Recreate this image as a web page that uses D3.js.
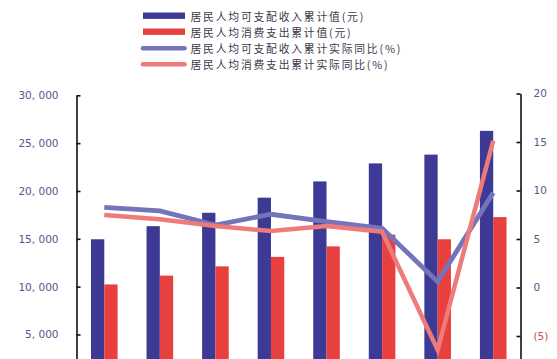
<!DOCTYPE html>
<html><head><meta charset="utf-8">
<script src="https://cdn.jsdelivr.net/npm/d3@7"></script>
<style>
html,body{margin:0;padding:0;background:#fff;overflow:hidden}
svg{display:block}
</style></head>
<body>
<svg id="c" width="557" height="359"></svg>
<script>
const categories = ["2014年1-9月","2015年1-9月","2016年1-9月","2017年1-9月","2018年1-9月","2019年1-9月","2020年1-9月","2021年1-9月"];
const incomeValues = [14950, 16320, 17720, 19300, 21000, 22880, 23800, 26280];
const consumeValues = [10230, 11150, 12120, 13110, 14210, 15440, 14950, 17270];
const incomeGrowth = [8.27, 7.9, 6.44, 7.55, 6.78, 6.1, 0.6, 9.77];
const consumeGrowth = [7.47, 7.03, 6.34, 5.82, 6.34, 5.75, -6.44, 15.13];
const leftTicks = [5000, 10000, 15000, 20000, 25000, 30000];
const rightTicks = [-5, 0, 5, 10, 15, 20];
const seriesNames = ["居民人均可支配收入累计值(元)","居民人均消费支出累计值(元)","居民人均可支配收入累计实际同比(%)","居民人均消费支出累计实际同比(%)"];

const C = {inc:"#3d3a96", con:"#e8403f", incL:"#7474bb", conL:"#ee7a7a"};
const svg = d3.select("#c");

const x = d3.scaleBand().domain(categories).range([76.5, 521]).padding(0);
const yL = d3.scaleLinear().domain([0, 30000]).range([382.3, 95.3]);
const yR = d3.scaleLinear().domain([-10, 20]).range([384.5, 93.5]);
const bw = 13.3;

// bars
const g = svg.append("g");
g.selectAll("rect.inc").data(categories).join("rect")
  .attr("x", d => x(d) + x.bandwidth()/2 - bw)
  .attr("y", (d,i) => yL(incomeValues[i]))
  .attr("width", bw)
  .attr("height", (d,i) => yL(0) - yL(incomeValues[i]))
  .attr("fill", C.inc);
g.selectAll("rect.con").data(categories).join("rect")
  .attr("x", d => x(d) + x.bandwidth()/2)
  .attr("y", (d,i) => yL(consumeValues[i]))
  .attr("width", bw)
  .attr("height", (d,i) => yL(0) - yL(consumeValues[i]))
  .attr("fill", C.con);

// lines
const cx = d => x(d) + x.bandwidth()/2;
const line = arr => d3.line().x((d,i) => cx(categories[i])).y(d => yR(d))(arr);
svg.append("path").attr("d", line(incomeGrowth)).attr("fill","none")
  .attr("stroke", C.incL).attr("stroke-width", 4.8);
svg.append("path").attr("d", line(consumeGrowth)).attr("fill","none")
  .attr("stroke", C.conL).attr("stroke-width", 4.5);

// axes
const fmtL = d => d3.format(",")(d).replace(",", ", ");
const axL = svg.append("g").attr("transform","translate(76.5,0)")
  .call(d3.axisLeft(yL).tickValues(leftTicks).tickFormat(fmtL).tickSize(-4).tickSizeOuter(0).tickPadding(18));
const axR = svg.append("g").attr("transform","translate(520.5,0)")
  .call(d3.axisRight(yR).tickValues(rightTicks).tickFormat(d => d < 0 ? "(" + (-d) + ")" : d).tickSize(-4).tickSizeOuter(0).tickPadding(13));
[axL, axR].forEach(a => {
  a.select(".domain").attr("stroke","#111").attr("stroke-width",1.6);
  a.selectAll(".tick line").attr("stroke","#111").attr("stroke-width",1.6);
  a.selectAll(".tick text").attr("font-family","DejaVu Sans, sans-serif").attr("font-size",10.5)
    .attr("fill","#525a88");
});
axR.selectAll(".tick text").attr("fill", d => d < 0 ? "#c0504d" : "#525a88");

// legend
const lg = svg.append("g");
const rowY = [15.7, 31.7, 48.3, 64.3];
seriesNames.forEach((name, i) => {
  if (i < 2) {
    lg.append("rect").attr("x",143).attr("y",rowY[i]-3.2).attr("width",42).attr("height",6.4)
      .attr("fill", i === 0 ? C.inc : C.con);
  } else {
    lg.append("line").attr("x1",143).attr("x2",184.5).attr("y1",rowY[i]).attr("y2",rowY[i])
      .attr("stroke", i === 2 ? C.incL : C.conL).attr("stroke-width",4.6).attr("stroke-linecap","round");
  }
  lg.append("text").attr("x",190.5).attr("y",rowY[i]).attr("dominant-baseline","central")
    .attr("font-family","Noto Sans CJK SC, sans-serif").attr("font-size",10.8).attr("letter-spacing",1.8)
    .attr("fill","#3a3a48").text(name);
});
</script>
</body></html>
